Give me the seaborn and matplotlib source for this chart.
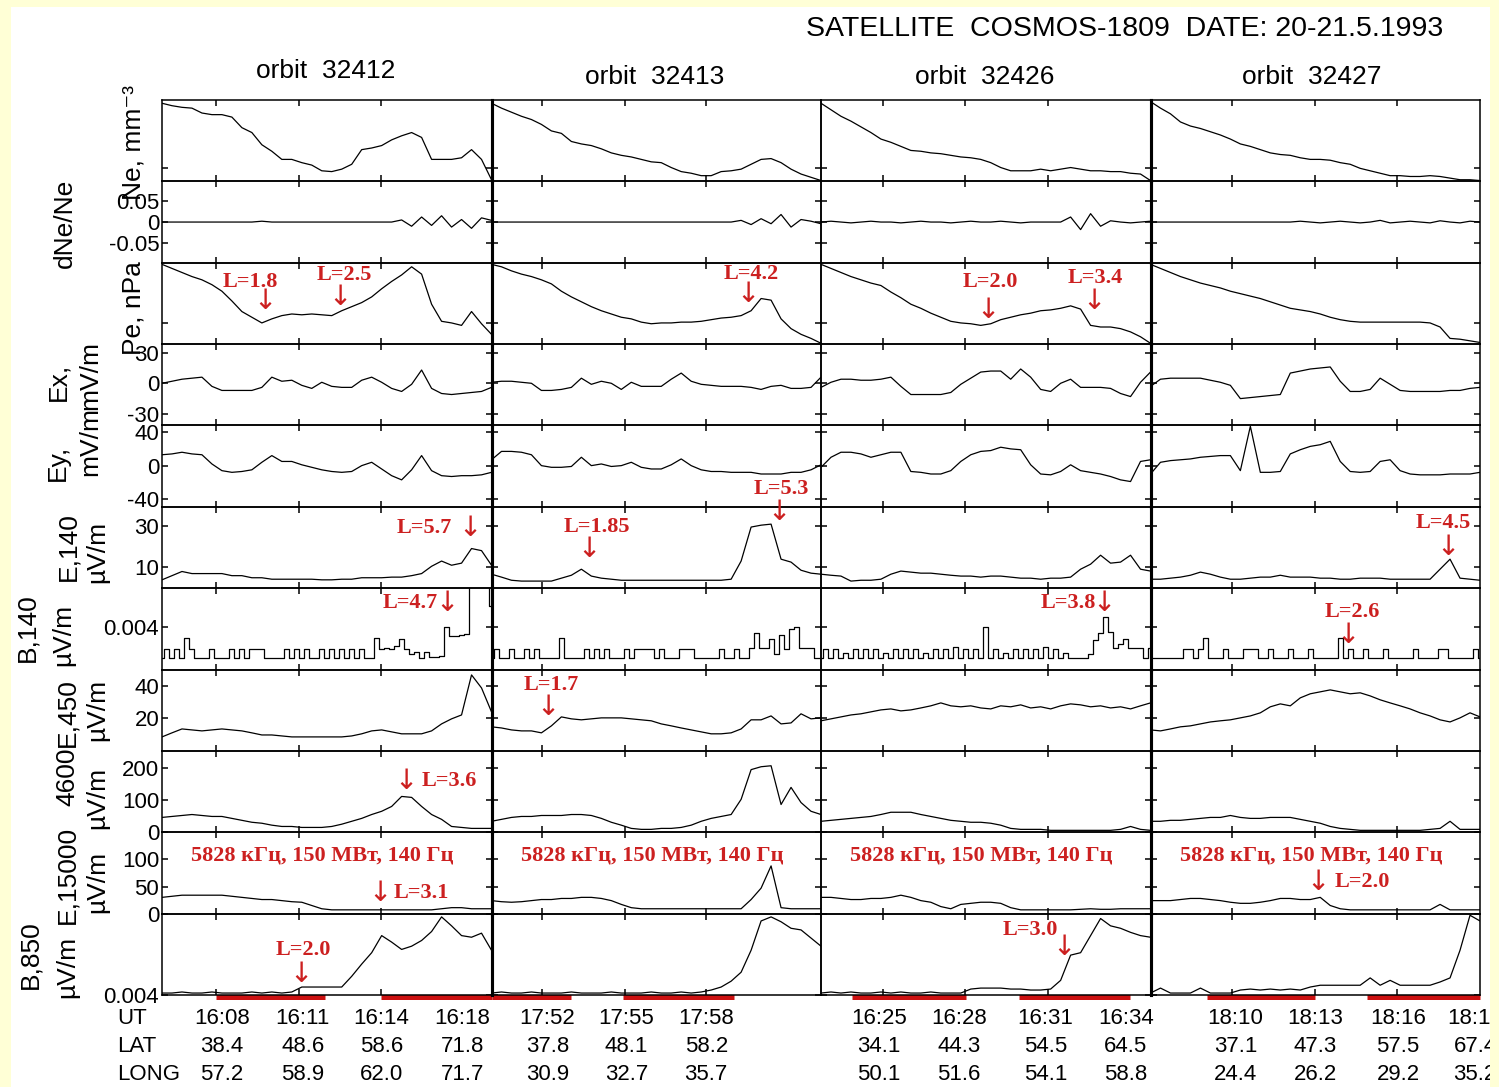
import numpy as np
import matplotlib
matplotlib.use("Agg")
import matplotlib.pyplot as plt
import matplotlib.transforms as mtransforms
from matplotlib.patches import Rectangle
import seaborn as sns

W, H = 1499, 1087
YELLOW = "#FFFFD6"
RED = "#CC2020"

title = "SATELLITE  COSMOS-1809  DATE: 20-21.5.1993"
orbits = ["orbit  32412", "orbit  32413", "orbit  32426", "orbit  32427"]

# one list per orbit (column), samples evenly spread over the ~12 min of each pass
ne = [
    [96, 93, 91, 90, 84, 82, 82, 79, 66, 60, 45, 37, 27, 27, 23, 20, 13, 12, 15, 21, 39, 41, 44, 51, 56, 60, 54, 27, 27, 27, 29, 39, 27, 2],
    [96, 90, 85, 80, 76, 70, 62, 59, 49, 46, 44, 40, 35, 32, 30, 27, 24, 23, 17, 12, 10, 7, 7, 12, 13, 15, 21, 27, 28, 23, 15, 9, 5, 1],
    [96, 88, 80, 74, 67, 60, 52, 48, 43, 38, 37, 35, 34, 32, 30, 29, 27, 23, 17, 13, 13, 13, 15, 13, 15, 17, 15, 13, 13, 12, 12, 10, 9, 1],
    [98, 90, 83, 73, 68, 65, 61, 57, 52, 46, 43, 39, 35, 33, 32, 29, 27, 27, 26, 23, 21, 16, 13, 10, 7, 7, 6, 6, 7, 6, 4, 2, 2, 1],
]
dne = [
    [0, 0, 0, 0, 0, 0, 0, 0, 0, 0, 0.002, 0, 0, 0, 0, 0, 0, 0, 0, 0, 0, 0, 0, 0,
     0.005, -0.01, 0.012, -0.008, 0.015, -0.012, 0.006, -0.015, 0.01, 0.004],
    [0, 0, 0, 0, 0, 0, 0, 0, 0, 0, 0, 0, 0, 0, 0, 0, 0, 0, 0, 0, 0, 0, 0, 0, 0,
     0.004, -0.006, 0.008, -0.004, 0.018, -0.012, 0.006, 0.002, -0.004],
    [0, 0.002, 0, -0.002, 0, 0.002, 0, 0, -0.002, 0, 0.002, 0, 0, -0.002, 0, 0.002, 0, 0, 0.002, 0,
     -0.002, 0, 0, 0, 0, 0.012, -0.018, 0.02, -0.01, 0.003, 0, -0.002, 0, 0.002],
    [0, 0, 0, 0, 0, 0, 0, 0, 0, 0, 0, 0, 0, 0, 0, 0.002, 0, -0.002, 0, 0.002,
     0, -0.002, 0, 0.004, -0.002, 0, 0.002, 0, -0.002, 0.003, 0, -0.002, 0.002, 0],
]
pe = [
    [98, 93, 88, 83, 79, 73, 65, 53, 40, 33, 26, 31, 35, 37, 36, 37, 36, 35, 41, 46, 51, 58, 68, 77, 85, 95, 86, 49, 28, 26, 23, 40, 25, 12],
    [98, 95, 90, 86, 83, 79, 74, 65, 58, 52, 46, 41, 37, 33, 31, 27, 25, 26, 26, 27, 27, 28, 30, 32, 33, 35, 41, 56, 54, 31, 19, 12, 7, 1],
    [98, 93, 88, 83, 79, 75, 72, 64, 57, 49, 44, 38, 33, 28, 26, 25, 23, 25, 30, 33, 36, 38, 41, 42, 44, 47, 43, 23, 21, 21, 19, 15, 9, 1],
    [98, 93, 88, 83, 79, 75, 72, 69, 65, 62, 59, 56, 52, 48, 44, 42, 40, 37, 33, 30, 28, 27, 27, 27, 27, 27, 27, 27, 26, 21, 7, 6, 4, 2],
]
ex = [
    [0, 2, 4, 5, 6, -3, -7, -7, -7, -7, -4, 6, 2, 3, -2, -5, 1, -3, -4, -4, 3, 6, 1, -5, -8, -1, 13, -5, -10, -11, -10, -9, -8, -4],
    [1, 2, 2, 1, 0, -7, -7, -6, -4, 5, -1, 2, 0, -6, 1, -3, -3, -3, 4, 10, 2, -1, -2, -3, -3, -3, -4, -6, -3, -2, -5, -5, -4, 6],
    [-4, 1, 4, 4, 3, 3, 4, 6, -3, -11, -11, -11, -11, -9, -1, 5, 11, 12, 12, 4, 14, 6, -6, -8, 0, 4, -4, -4, -4, -5, -10, -13, 1, 11],
    [-3, 4, 5, 5, 5, 5, 3, 1, -2, -15, -14, -13, -12, -11, 10, 12, 14, 15, 16, 2, -8, -8, -6, 5, -1, -7, -8, -8, -8, -8, -7, -7, -5, -4],
]
ey = [
    [13, 14, 16, 14, 13, 2, -6, -8, -7, -5, 4, 12, 5, 5, 1, -2, -5, -7, -8, -7, 0, 4, -4, -12, -17, -5, 12, -6, -12, -13, -12, -12, -11, -8],
    [7, 17, 17, 16, 13, 0, -2, -2, -1, 10, 0, 2, -1, 0, 4, -2, -4, -4, 1, 8, 0, -5, -7, -7, -8, -8, -8, -10, -10, -10, -8, -8, -5, 1],
    [-2, 10, 16, 16, 14, 10, 13, 16, 16, -7, -8, -10, -10, -6, 5, 13, 17, 18, 22, 20, 19, 1, -10, -11, -7, 1, -6, -8, -10, -13, -17, -19, 5, 7],
    [-10, 4, 6, 7, 8, 10, 11, 12, 12, -6, 47, -8, -8, -7, 14, 19, 23, 25, 29, 5, -7, -8, -7, 5, 7, -6, -10, -11, -11, -11, -10, -10, -10, -8],
]
e140 = [
    [4, 6, 8, 7, 7, 7, 7, 6, 6, 5, 5, 4.3, 4.3, 4.3, 4.3, 4.3, 4, 4, 4.3, 4.3, 5, 5, 5, 5.3, 5.3, 6, 7, 10.5, 13, 11, 12, 19, 18, 11],
    [6.7, 5.3, 3.8, 3.4, 3.4, 3.4, 3.4, 4.8, 6.2, 9.1, 5.8, 4.8, 4.3, 3.8, 3.8, 3.8, 3.8, 3.8, 3.8, 3.8, 3.8, 3.8, 3.8, 3.8, 4.3, 13, 29.3, 30.2, 30.7, 13.9, 12.5, 8.6, 7.2, 6.7],
    [6.7, 6.2, 5.8, 3.4, 3.8, 3.8, 4.3, 6.7, 8.2, 7.7, 7.2, 7.2, 6.7, 6.2, 5.8, 5.8, 5.3, 5.8, 5.8, 5.3, 4.8, 4.8, 4.3, 4.8, 4.8, 5.3, 9.1, 11.5, 15.8, 12, 12.5, 15.8, 9.1, 8.2],
    [4.3, 4.3, 4.8, 5.3, 6.2, 7.7, 6.7, 5.3, 4.3, 4.3, 4.8, 5.3, 5.3, 6.2, 5.3, 5.3, 5.3, 4.8, 4.8, 4.3, 4.3, 4.8, 4.8, 4.8, 4.3, 4.3, 4.3, 4.3, 4.3, 9.1, 13.9, 4.8, 4.3, 3.8],
]
# B,140 in units of 0.001
b140 = [
    [1.05, 1.9, 1.05, 1.9, 1.05, 3.0, 1.9, 1.05, 1.05, 1.05,
     1.9, 1.05, 1.05, 1.05, 1.9, 1.05, 1.9, 1.05, 1.9, 1.9,
     1.9, 1.05, 1.05, 1.05, 1.05, 1.9, 1.05, 1.9, 1.05, 1.9,
     1.05, 1.05, 1.9, 1.05, 1.9, 1.05, 1.9, 1.05, 1.9, 1.05,
     1.9, 1.05, 1.05, 3.0, 1.9, 2.0, 1.9, 2.2, 2.9, 1.9,
     1.5, 1.7, 1.05, 1.7, 1.2, 1.2, 1.3, 4.0, 3.2, 3.2,
     3.3, 3.4, 9.0, 9.0, 9.0, 9.0, 6.0],
    [1.05, 1.9, 1.05, 1.05, 1.9, 1.05, 1.05, 1.9, 1.05, 1.9,
     1.05, 1.05, 1.05, 1.05, 3.0, 1.05, 1.05, 1.05, 1.05, 1.9,
     1.05, 1.9, 1.05, 1.9, 1.05, 1.05, 1.05, 1.9, 1.05, 1.9,
     1.9, 1.9, 1.9, 1.05, 1.9, 1.05, 1.05, 1.05, 1.9, 1.9,
     1.9, 1.05, 1.05, 1.05, 1.05, 1.05, 1.9, 1.05, 1.05, 1.9,
     1.05, 1.05, 2.0, 3.5, 2.0, 2.0, 2.9, 1.5, 3.3, 1.9,
     3.8, 4.0, 2.0, 2.0, 2.0, 1.05, 1.05],
    [1.05, 1.9, 1.05, 1.9, 1.05, 1.6, 1.05, 1.9, 1.05, 1.9,
     1.05, 1.9, 1.05, 1.6, 1.05, 1.9, 1.05, 1.9, 1.05, 1.9,
     1.05, 1.6, 1.05, 1.9, 1.05, 1.9, 1.05, 2.1, 1.05, 1.9,
     1.05, 1.9, 1.05, 4.0, 1.05, 1.9, 1.05, 1.6, 1.05, 1.9,
     1.05, 1.9, 1.05, 1.9, 1.05, 2.1, 1.05, 1.9, 1.05, 1.6,
     1.05, 1.05, 1.05, 1.05, 1.5, 2.8, 3.5, 5.0, 3.6, 2.0,
     2.4, 2.9, 2.0, 2.0, 2.0, 1.05, 2.0],
    [1.05, 1.05, 1.05, 1.05, 1.05, 1.05, 1.05, 1.9, 1.9, 1.05,
     1.9, 3.0, 1.05, 1.05, 1.05, 1.9, 1.05, 1.05, 1.05, 1.9,
     1.9, 1.9, 1.05, 1.05, 1.9, 1.05, 1.05, 1.05, 1.9, 1.05,
     1.05, 1.05, 1.9, 1.05, 1.05, 1.05, 1.05, 1.05, 3.0, 1.05,
     1.9, 1.05, 1.05, 1.9, 1.05, 1.05, 1.05, 1.9, 1.05, 1.05,
     1.05, 1.05, 1.05, 1.9, 1.05, 1.05, 1.05, 1.05, 1.9, 1.9,
     1.05, 1.05, 1.05, 1.05, 1.05, 1.9, 1.05],
]
e450 = [
    [8.6, 11.1, 13.5, 12.9, 12.3, 12.9, 13.5, 12.9, 12.3, 11.1, 9.8, 9.8, 9.2, 8.6, 8.6, 8.6, 8.6, 8.6, 8.6, 9.2, 10.5, 12.3, 12.9, 11.7, 10.5, 10.5, 10.5, 12.3, 16.6, 19.7, 22.1, 46.7, 38.7, 24],
    [14.8, 14.1, 12.9, 12.3, 12.3, 11.1, 15.4, 20.9, 19.7, 19.1, 19.7, 20.3, 20.3, 20.3, 19.7, 19.1, 18.5, 16.6, 15.4, 14.1, 12.9, 11.7, 10.5, 10.5, 11.1, 13.5, 19.1, 19.1, 21.5, 16.6, 17.2, 22.8, 19.7, 20.3],
    [18.5, 19.7, 20.9, 22.1, 22.8, 24, 25.2, 25.8, 24.6, 25.2, 26.4, 27.7, 29.5, 27.7, 27.1, 27.7, 26.4, 25.8, 27.7, 27.1, 28.3, 26.4, 27.1, 25.8, 27.7, 28.9, 28.3, 27.1, 27.7, 26.4, 27.1, 25.8, 27.7, 29.5],
    [12.9, 12.3, 13.5, 14.8, 15.4, 16.6, 17.8, 18.5, 19.1, 20.3, 21.5, 23.4, 27.1, 28.9, 27.7, 32.6, 35.1, 36.3, 37.5, 36.3, 35.1, 35.7, 33.8, 31.4, 29.5, 27.7, 25.8, 23.4, 21.5, 19.1, 17.8, 20.3, 23.4, 20.9],
]
e4600 = [
    [46, 49, 52, 55, 52, 49, 49, 43, 37, 31, 28, 22, 18, 18, 15, 15, 15, 18, 25, 34, 43, 55, 65, 80, 111, 108, 80, 55, 40, 18, 15, 12, 12, 12],
    [34, 40, 46, 49, 49, 52, 52, 52, 55, 55, 52, 43, 31, 22, 12, 9, 9, 12, 12, 15, 22, 34, 43, 49, 55, 102, 194, 203, 206, 86, 139, 92, 65, 55],
    [34, 37, 40, 43, 46, 49, 55, 62, 62, 62, 55, 49, 43, 37, 34, 31, 31, 28, 22, 12, 9, 9, 9, 6, 6, 6, 6, 6, 6, 6, 9, 18, 9, 6],
    [34, 34, 37, 37, 40, 43, 46, 46, 52, 46, 43, 43, 46, 46, 46, 40, 34, 28, 18, 12, 9, 6, 6, 6, 6, 6, 6, 6, 9, 12, 34, 9, 9, 9],
]
e15000 = [
    [30, 32, 34, 34, 34, 34, 34, 32, 30, 28, 26, 26, 24, 22, 21, 15, 9, 7, 7, 7, 7, 7, 7, 7, 7, 7, 7, 7, 9, 11, 11, 9, 9, 9],
    [24, 22, 21, 22, 24, 26, 26, 28, 28, 30, 30, 28, 24, 17, 11, 9, 9, 9, 9, 9, 9, 9, 9, 9, 9, 9, 26, 47, 88, 11, 9, 9, 9, 9],
    [30, 30, 28, 26, 26, 28, 28, 30, 34, 30, 24, 21, 13, 9, 17, 19, 21, 21, 19, 11, 7, 7, 7, 7, 7, 7, 8, 9, 8, 8, 9, 9, 9, 9],
    [24, 24, 24, 26, 28, 28, 26, 24, 21, 19, 19, 21, 24, 28, 28, 26, 26, 30, 15, 9, 7, 7, 7, 7, 7, 7, 7, 7, 7, 17, 7, 7, 7, 7],
]
b850 = [
    [2.4, 2.4, 3.7, 2.4, 2.4, 3.7, 2.4, 2.4, 2.4, 3.7, 2.4, 3.7, 2.4, 3.7, 9.8, 9.8, 9.8, 9.8, 9.8, 23, 38, 52, 73, 65, 56, 60, 67, 78, 96, 85, 73, 71, 76, 55],
    [2.4, 3.7, 2.4, 2.4, 3.7, 2.4, 2.4, 2.4, 3.7, 2.4, 2.4, 2.4, 3.7, 2.4, 2.4, 2.4, 3.7, 2.4, 2.4, 3.7, 2.4, 3.7, 6.1, 9.8, 17, 28, 55, 91, 96, 90, 82, 80, 70, 60],
    [2.4, 3.7, 2.4, 3.7, 2.4, 2.4, 3.7, 2.4, 3.7, 2.4, 2.4, 3.7, 2.4, 2.4, 2.4, 7.3, 8.5, 8.5, 8.5, 7.3, 7.3, 6.1, 6.1, 7.3, 18, 49, 52, 73, 94, 85, 82, 77, 73, 71],
    [2.4, 8.5, 2.4, 2.4, 2.4, 8.5, 2.4, 2.4, 2.4, 6.1, 7.3, 6.1, 7.3, 6.1, 7.3, 6.1, 9.8, 12, 12, 12, 12, 12, 21, 12, 18, 12, 12, 12, 12, 16, 21, 55, 98, 91],
]

# (data, ylim, yticks, yticklabels, drawstyle)
rows = [
    (ne, (0, 100), [17], [""], "default"),
    (dne, (-0.097, 0.097), [-0.05, 0, 0.05], ["-0.05", "0", "0.05"], "default"),
    (pe, (0, 100), [26], [""], "default"),
    (ex, (-41.3, 38.4), [-30, 0, 30], ["-30", "0", "30"], "default"),
    (ey, (-49.2, 48), [-40, 0, 40], ["-40", "0", "40"], "default"),
    (e140, (0, 39), [10, 30], ["10", "30"], "default"),
    (b140, (0, 7.7), [4], ["0.004"], "steps-mid"),
    (e450, (0, 50), [20, 40], ["20", "40"], "default"),
    (e4600, (0, 252), [0, 100, 200], ["0", "100", "200"], "default"),
    (e15000, (0, 150), [0, 50, 100], ["0", "50", "100"], "default"),
    (b850, (0, 100), [0], ["0.004"], "default"),
]
col_ticks = [[1.96, 4.98, 7.96], [1.85, 4.87, 7.82], [2.25, 5.24, 8.25], [2.98, 6.0, 8.98]]

ylabels = [("Ne, mm⁻³", 133, 143), ("dNe/Ne", 65, 223), ("Pe, nPa", 133, 308),
           ("Ex,", 58, 382), ("mV/m", 90, 375), ("Ey,", 58, 463), ("mV/m", 90, 441),
           ("E,140", 68, 547), ("µV/m", 97, 552), ("B,140", 27, 628), ("µV/m", 63, 635),
           ("E,450", 67, 713), ("µV/m", 97, 710), ("4600", 67, 777), ("µV/m", 97, 798),
           ("E,15000", 67, 875), ("µV/m", 97, 882), ("B,850", 30, 955), ("µV/m", 67, 967)]

# UT / LAT / LONG table under each orbit
ut = [["16:08", "16:11", "16:14", "16:18"], ["17:52", "17:55", "17:58"],
      ["16:25", "16:28", "16:31", "16:34"], ["18:10", "18:13", "18:16", "18:19"]]
lat = [["38.4", "48.6", "58.6", "71.8"], ["37.8", "48.1", "58.2"],
       ["34.1", "44.3", "54.5", "64.5"], ["37.1", "47.3", "57.5", "67.4"]]
lon = [["57.2", "58.9", "62.0", "71.7"], ["30.9", "32.7", "35.7"],
       ["50.1", "51.6", "54.1", "58.8"], ["24.4", "26.2", "29.2", "35.2"]]
ut_x = [[2.18, 5.13, 8.0, 10.95], [2.04, 4.91, 7.82], [2.11, 5.02, 8.18, 11.1], [3.09, 6.0, 9.02, 11.82]]

# red bars under the bottom panels (minutes from start of column)
bars = [[(1.96, 5.93), (7.96, 12.0)], [(0.0, 2.91), (4.8, 8.84)],
        [(1.13, 5.27), (7.2, 11.27)], [(2.07, 6.0), (7.89, 12.0)]]

# red L-shell labels: (row, col, text, x, y as axes fraction)
notes = [(2, 0, "L=1.8", 3.2, 0.765), (2, 0, "L=2.5", 6.65, 0.85), (2, 1, "L=4.2", 9.45, 0.864),
         (2, 2, "L=2.0", 6.18, 0.765), (2, 2, "L=3.4", 10.0, 0.815), (5, 0, "L=5.7", 9.56, 0.744),
         (5, 1, "L=1.85", 3.82, 0.756), (5, 1, "L=5.3", 10.55, 1.22), (5, 3, "L=4.5", 10.65, 0.805),
         (6, 0, "L=4.7", 9.02, 0.815), (6, 2, "L=3.8", 9.02, 0.815), (6, 3, "L=2.6", 7.35, 0.704),
         (7, 1, "L=1.7", 2.18, 0.815), (8, 0, "L=3.6", 10.47, 0.634), (9, 0, "L=3.1", 9.45, 0.25),
         (9, 3, "L=2.0", 7.71, 0.39), (10, 0, "L=2.0", 5.16, 0.549), (10, 2, "L=3.0", 7.64, 0.793)]
arrows = [(2, 0, 3.75, 0.53), (2, 0, 6.47, 0.58), (2, 1, 9.35, 0.62), (2, 2, 6.07, 0.42),
          (2, 2, 9.93, 0.53), (5, 0, 11.2, 0.744), (5, 1, 3.56, 0.48), (5, 1, 10.47, 0.94),
          (5, 3, 10.84, 0.51), (6, 0, 10.36, 0.815), (6, 2, 10.29, 0.815), (6, 3, 7.2, 0.43),
          (7, 1, 2.07, 0.54), (8, 0, 8.87, 0.634), (9, 0, 7.93, 0.25), (9, 3, 6.11, 0.39),
          (10, 0, 5.05, 0.26), (10, 2, 8.84, 0.59)]
banner = "5828 кГц, 150 МВт, 140 Гц"

sns.set_theme(style="ticks", rc={"axes.edgecolor": "black", "xtick.color": "black",
                                 "ytick.color": "black", "text.color": "black"})
plt.rcParams["font.family"] = ["Liberation Sans", "DejaVu Sans"]
serif = ["Liberation Serif", "DejaVu Serif"]

fig, axes = plt.subplots(11, 4, figsize=(W / 100, H / 100), dpi=100,
                         gridspec_kw=dict(hspace=0, wspace=0, left=162 / W, right=1480 / W,
                                          top=1 - 100 / H, bottom=1 - 995 / H))
fig.patch.set_facecolor(YELLOW)
fig.add_artist(Rectangle((11 / W, 0), (1490 - 11) / W, 1 - 7 / H, transform=fig.transFigure,
                         facecolor="white", edgecolor="none", zorder=-5))

for r, (data, ylim, yt, ytl, ds) in enumerate(rows):
    for c in range(4):
        ax = axes[r, c]
        vals = data[c]
        x = np.linspace(0, 12, len(vals))
        sns.lineplot(x=x, y=vals, ax=ax, color="black", linewidth=0.9, drawstyle=ds)
        ax.set_xlim(0, 12)
        ax.set_ylim(*ylim)
        ax.set_xticks(col_ticks[c])
        ax.set_yticks(yt)
        ax.set_yticklabels(ytl)
        ax.set_xlabel("")
        ax.set_ylabel("")
        ax.set_facecolor("none")
        ax.tick_params(axis="both", direction="in", length=4, width=1.1, top=True, right=True,
                       labelbottom=False, labelleft=(c == 0), labelsize=16, pad=2)
        for s in ax.spines.values():
            s.set_linewidth(1.1)
            s.set_color("black")
        if c in (0, 2):
            ax.spines["right"].set_linewidth(2.2)
        if c in (1, 3):
            ax.spines["left"].set_linewidth(2.2)

for r, c, s, xv, yf in notes:
    ax = axes[r, c]
    tr = mtransforms.blended_transform_factory(ax.transData, ax.transAxes)
    ax.text(xv, yf, s, transform=tr, ha="center", va="center", color=RED,
            family=serif, fontweight="bold", fontsize=16)
for r, c, xv, yf in arrows:
    ax = axes[r, c]
    tr = mtransforms.blended_transform_factory(ax.transData, ax.transAxes)
    ax.text(xv, yf, "↓", transform=tr, ha="center", va="center", color=RED,
            family=["DejaVu Sans"], fontsize=20)
for c in range(4):
    ax = axes[9, c]
    tr = mtransforms.blended_transform_factory(ax.transData, ax.transAxes)
    ax.text(5.85, 0.71, banner, transform=tr, ha="center", va="center", color=RED,
            family=serif, fontweight="bold", fontsize=16)

for c in range(4):
    ax = axes[10, c]
    tr = mtransforms.blended_transform_factory(ax.transData, fig.transFigure)
    for a, b in bars[c]:
        ax.plot([a, b], [1 - 997 / H, 1 - 997 / H], transform=tr, color="#CC1111",
                linewidth=3.6, clip_on=False, solid_capstyle="butt")
    for labels, yy in ((ut[c], 1018), (lat[c], 1047), (lon[c], 1075)):
        for xv, s in zip(ut_x[c], labels):
            ax.text(xv, 1 - yy / H, s, transform=tr, ha="center", va="center", fontsize=16)

for s, yy in (("UT", 1018), ("LAT", 1047), ("LONG", 1075)):
    fig.text(117 / W, 1 - yy / H, s, ha="left", va="center", fontsize=16)

for s, xx, yy in ylabels:
    fig.text(xx / W, 1 - yy / H, s, rotation=90, ha="center", va="center", fontsize=19)

for s, (xx, yy) in zip(orbits, [(326, 71), (655, 77), (985, 77), (1312, 77)]):
    fig.text(xx / W, 1 - yy / H, s, ha="center", va="center", fontsize=19)
fig.text(1125 / W, 1 - 29 / H, title, ha="center", va="center", fontsize=20.5)

# yellow frame on the right trims the last column of the table like the original
fig.add_artist(Rectangle((1490 / W, 0), (W - 1490) / W, 1, transform=fig.transFigure,
                         facecolor=YELLOW, edgecolor="none", zorder=20))

fig.savefig("out.png", dpi=100, facecolor=fig.get_facecolor())
